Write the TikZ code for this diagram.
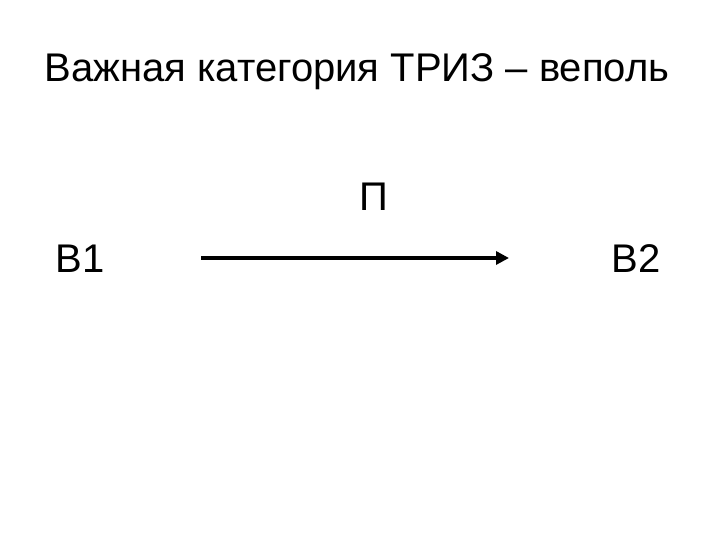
\documentclass[tikz,border=0pt]{standalone}
\usepackage{fontspec}
\setmainfont{Liberation Sans}
\usetikzlibrary{arrows.meta}
\tikzset{
  label text/.style={font=\fontsize{40}{48}\selectfont, inner sep=0pt},
  link/.style={line width=4pt, -{Triangle[length=13pt,width=13pt]}}
}
\begin{document}
\begin{tikzpicture}[x=1pt,y=1pt]
                    \useasboundingbox (0,0) rectangle (720,540);
                    {

                    % Marking the title
                    \node [label text, anchor=base] (title) at (357,458) {Важная категория ТРИЗ – веполь};%

                    % Marking field P
                    \node [label text, anchor=base] (field) at (374,329) {П};%

                    % Marking substance B1
                    \node [label text, anchor=base] (subA) at (80,267) {В1};%

                    % Marking substance B2
                    \node [label text, anchor=base] (subB) at (636,267) {В2};%

                    % Drawing link B1 B2
                    \coordinate (linkA) at (201,282);
                    \coordinate (linkB) at (509,282);
                    \draw [link] (linkA) -- (linkB);%
                    }
                    \end{tikzpicture}
\end{document}
